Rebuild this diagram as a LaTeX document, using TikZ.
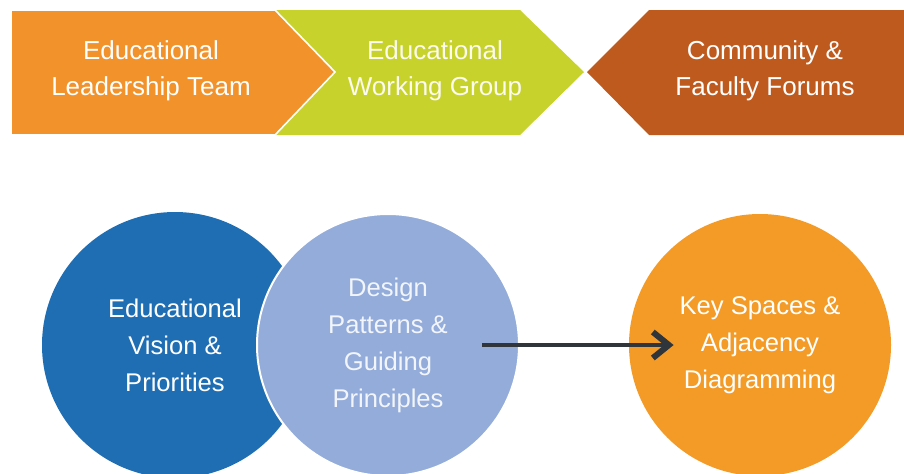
\documentclass[tikz,border=0pt]{standalone}
\usepackage{fontspec}
\setmainfont{Liberation Sans}
\usetikzlibrary{arrows.meta}
\definecolor{stepOrange}{HTML}{F2922A}
\definecolor{stepLime}{HTML}{C8D22C}
\definecolor{stepBrown}{HTML}{BF5A1E}
\definecolor{visionBlue}{HTML}{1F6EB4}
\definecolor{patternBlue}{HTML}{93ACDA}
\definecolor{spaceOrange}{HTML}{F39B26}
\definecolor{arrowGray}{HTML}{2F353B}

\begin{document}
\begin{tikzpicture}[x=0.5pt,y=-0.5pt,
        steplabel/.style={text=white,align=center,font=\fontsize{13}{18}\selectfont},
        bubble/.style={circle,minimum size=131pt,inner sep=0pt,text=white,align=center,
            font=\fontsize{12.8}{18.5}\selectfont}]
        \useasboundingbox (0,0) rectangle (904,473);

        % process band
        \fill[stepLime] (275,10) -- (520,10) -- (584,72) -- (520,135) -- (275,135) -- (335,72) -- cycle;
        \filldraw[fill=stepOrange,draw=white,line width=0.8pt] (11,10) -- (275,10) -- (335,72) -- (275,135) -- (11,135) -- cycle;
        \fill[stepBrown] (587,72) -- (649,10) -- (904,10) -- (904,135) -- (649,135) -- cycle;
        \node[steplabel] (leadership) at (151,71) {Educational\\Leadership Team};
        \node[steplabel,text=white!92!stepLime] (working) at (435,71) {Educational\\Working Group};
        \node[steplabel] (forums) at (765,71) {Community \&\\Faculty Forums};

        % circles
        \node[bubble,fill=visionBlue,minimum size=133pt] (vision) at (175,345) {Educational\\Vision \&\\Priorities};
        \node[bubble,fill=patternBlue,draw=white,line width=1pt,text=white!88!patternBlue] (design) at (388,345)
            {Design\\Patterns \&\\Guiding\\Principles};
        \node[bubble,fill=spaceOrange] (keyspaces) at (760,345) {Key Spaces \&\\Adjacency\\Diagramming};

        % arrow
        \draw[arrowGray,line width=2pt,-{Straight Barb[length=8pt,width=13pt,line width=3pt]}]
            ([xshift=47pt]design.center) -- ([xshift=22.5pt]keyspaces.west);
    \end{tikzpicture}
\end{document}
